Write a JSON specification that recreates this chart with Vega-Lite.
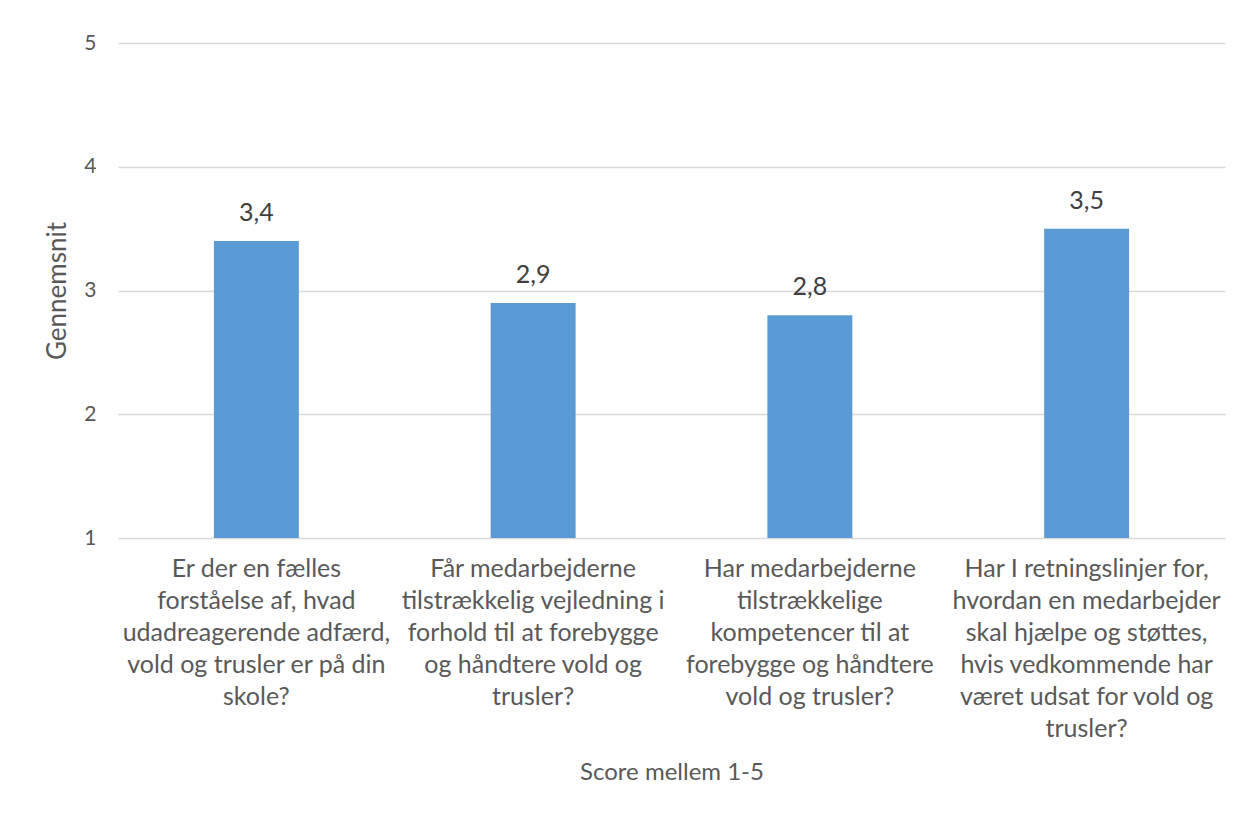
{
  "$schema": "https://vega.github.io/schema/vega-lite/v6.json",
  "autosize": "none",
  "width": 1107,
  "height": 495,
  "padding": {"left": 118, "top": 43, "right": 15, "bottom": 275},
  "background": "white",
  "config": {
    "locale": {"number": {"decimal": ",", "thousands": ".", "grouping": [3], "currency": ["", " kr."]}},
    "font": "Lato",
    "view": {"stroke": null}
  },
  "data": {
    "values": [
      {"q": "Er der en fælles|forståelse af, hvad|udadreagerende adfærd,|vold og trusler er på din|skole?", "v": 3.4},
      {"q": "Får medarbejderne|tilstrækkelig vejledning i|forhold til at forebygge|og håndtere vold og|trusler?", "v": 2.9},
      {"q": "Har medarbejderne|tilstrækkelige|kompetencer til at|forebygge og håndtere|vold og trusler?", "v": 2.8},
      {"q": "Har I retningslinjer for,|hvordan en medarbejder|skal hjælpe og støttes,|hvis vedkommende har|været udsat for vold og|trusler?", "v": 3.5}
    ]
  },
  "encoding": {
    "x": {
      "field": "q", "type": "nominal", "sort": null,
      "scale": {"paddingInner": 0.693, "paddingOuter": 0.3465},
      "axis": {
        "title": "Score mellem 1-5",
        "titleFont": "Lato", "titleFontSize": 24, "titleFontWeight": "normal", "titleColor": "#595959",
        "titlePadding": 22,
        "labelExpr": "split(datum.label, '|')",
        "labelAngle": 0, "labelFontSize": 25, "labelColor": "#595959",
        "labelLineHeight": 32, "labelPadding": 18, "labelBaseline": "top",
        "labelLimit": 400,
        "ticks": false, "domain": false
      }
    },
    "y": {
      "field": "v", "type": "quantitative",
      "scale": {"domain": [1, 5], "zero": false, "nice": false},
      "axis": {
        "title": "Gennemsnit",
        "titleFont": "Lato", "titleFontSize": 26, "titleFontWeight": "normal", "titleColor": "#595959",
        "titlePadding": 13,
        "values": [1, 2, 3, 4, 5], "format": "d",
        "labelFontSize": 21, "labelColor": "#595959", "labelPadding": 22,
        "ticks": false, "domain": false,
        "gridColor": "#D9D9D9", "gridWidth": 1.3
      }
    }
  },
  "layer": [
    {"mark": {"type": "bar", "color": "#5B9BD5"}, "encoding": {"y2": {"datum": 1}}},
    {
      "mark": {"type": "text", "dy": -28, "fontSize": 25, "color": "#404040", "font": "Lato"},
      "encoding": {"text": {"field": "v", "type": "quantitative", "format": ".1f"}}
    }
  ]
}
